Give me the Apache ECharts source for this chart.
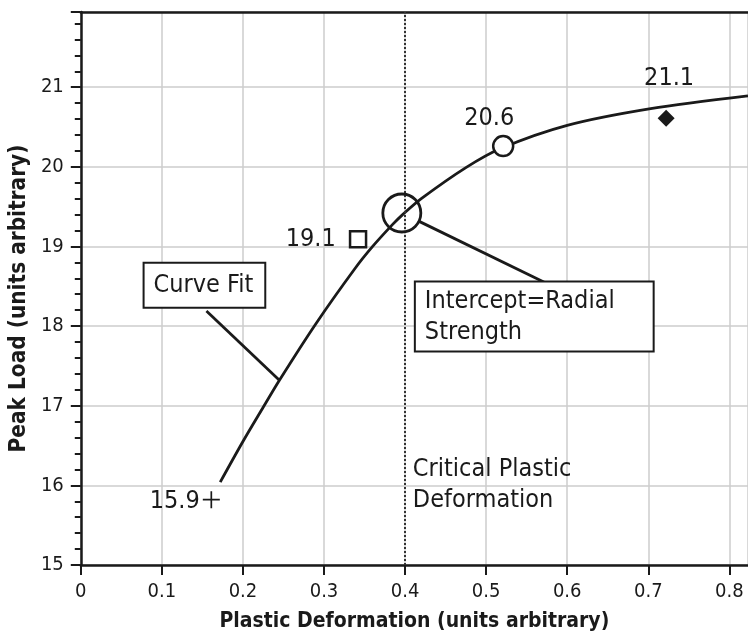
<!DOCTYPE html>
<html>
<head>
<meta charset="utf-8">
<script src="https://cdn.jsdelivr.net/npm/echarts@6/dist/echarts.min.js"></script>
<style>
  html, body { margin: 0; padding: 0; background: #fff; }
  #chart { width: 748px; height: 637px; }
</style>
</head>
<body>
<div id="chart"></div>
<script>
// curve fit
const curveX = [0.172, 0.200, 0.225, 0.245, 0.290, 0.338, 0.360, 0.385, 0.397, 0.420, 0.475, 0.518, 0.600, 0.703, 0.823];
const curveY = [16.04, 16.55, 16.98, 17.32, 18.03, 18.72, 19.00, 19.28, 19.40, 19.60, 19.99, 20.23, 20.52, 20.73, 20.89];

// measured points: cross, square, circle, diamond
const pointX = [0.161, 0.342, 0.521, 0.722];
const pointY = [15.82, 19.09, 20.26, 20.61];
const pointLabels = ["15.9", "19.1", "20.6", "21.1"];

// intercept and critical deformation
const interceptPoint = [0.396, 19.42];
const criticalX = 0.396;

// annotation anchors (data coords) and leader lines
const curveFitBox = [0.0787, 18.784];
const interceptBox = [0.4133, 18.546];
const criticalText = [0.4096, 16.39];
const curveFitLeader = [[0.155, 18.19], [0.245, 17.32]];
const interceptLeader = [[0.573, 18.545], [0.4174, 19.315]];

const yTicks = [15, 16, 17, 18, 19, 20, 21];

const FONT = "'DejaVu Sans Condensed', 'DejaVu Sans', sans-serif";
const INK = "#1a1a1a";

var chart = echarts.init(document.getElementById("chart"), null, { renderer: "canvas" });

function pointSeries(i, symbol, size, filled, labelOpt) {
  return {
    type: "scatter",
    data: [[pointX[i], pointY[i]]],
    symbol: symbol,
    symbolSize: size,
    itemStyle: {
      color: filled ? INK : "#fff",
      borderColor: INK,
      borderWidth: filled ? 0 : 2.5,
      opacity: 1,
    },
    label: Object.assign({
      show: true,
      formatter: pointLabels[i],
      color: INK,
      fontFamily: FONT,
      fontSize: 25,
      textBorderWidth: 0,
    }, labelOpt),
    z: 5,
  };
}

function noteSeries(pos, text, labelOpt) {
  return {
    type: "scatter",
    data: [pos],
    symbolSize: 0,
    itemStyle: { opacity: 1, color: INK },
    label: Object.assign({
      show: true,
      formatter: text,
      position: [0, 0],
      align: "left",
      verticalAlign: "top",
      color: INK,
      fontFamily: FONT,
      fontSize: 25,
      textBorderWidth: 0,
      textShadowBlur: 0,
    }, labelOpt),
    z: 8,
  };
}

var option = {
  animation: false,
  backgroundColor: "#fff",
  grid: { left: 78, right: 0, top: 12, bottom: 70 },
  xAxis: [
    {
      type: "value",
      min: 0,
      max: 0.823,
      interval: 0.1,
      name: "Plastic Deformation (units arbitrary)",
      nameLocation: "middle",
      nameGap: 46,
      nameTextStyle: { fontFamily: FONT, fontWeight: "bold", fontSize: 21, color: INK },
      axisLine: { lineStyle: { color: INK, width: 2.5 } },
      axisTick: { show: true, length: 10, lineStyle: { color: INK, width: 2 } },
      axisLabel: {
        margin: 17,
        fontFamily: FONT,
        fontSize: 20,
        color: INK,
        formatter: function (v) { return v === 0 ? "0" : v.toFixed(1); },
      },
      splitLine: { show: true, lineStyle: { color: "#cccccc", width: 1.5 } },
    },
    {
      type: "value",
      position: "top",
      min: 0,
      max: 0.823,
      axisLine: { show: true, lineStyle: { color: INK, width: 2.5 } },
      axisTick: { show: false },
      axisLabel: { show: false },
      splitLine: { show: false },
    },
  ],
  yAxis: {
    type: "value",
    min: yTicks[0],
    max: 21.944,
    interval: 1,
    name: "Peak Load (units arbitrary)",
    nameLocation: "middle",
    nameGap: 45,
    nameTextStyle: {
      fontFamily: FONT, fontWeight: "bold", fontSize: 22.4, color: INK,
      padding: [0, 20, 0, 0],
    },
    axisLine: { show: true, lineStyle: { color: INK, width: 2.5 } },
    axisTick: { show: true, length: 10, lineStyle: { color: INK, width: 2 } },
    minorTick: { show: true, splitNumber: 5, length: 6, lineStyle: { color: INK, width: 2 } },
    axisLabel: {
      margin: 17,
      fontFamily: FONT,
      fontSize: 20,
      color: INK,
      formatter: function (v) { return yTicks.indexOf(v) >= 0 ? String(v) : ""; },
    },
    splitLine: { show: true, lineStyle: { color: "#cccccc", width: 1.5 } },
  },
  series: [
    {
      type: "line",
      data: curveX.map((x, i) => [x, curveY[i]]),
      smooth: 0.3,
      showSymbol: false,
      lineStyle: { color: INK, width: 2.8 },
      z: 4,
      markLine: {
        silent: true,
        symbol: "none",
        label: { show: false },
        lineStyle: { color: "#333", width: 2, type: "dotted" },
        data: [{ xAxis: criticalX }],
      },
    },
    {
      type: "line",
      data: curveFitLeader,
      showSymbol: false,
      lineStyle: { color: INK, width: 2.8 },
      z: 4,
    },
    {
      type: "line",
      data: interceptLeader,
      showSymbol: false,
      lineStyle: { color: INK, width: 2.8 },
      z: 4,
    },
    {
      type: "scatter",
      data: [interceptPoint],
      symbol: "circle",
      symbolSize: 38,
      itemStyle: { color: "rgba(0,0,0,0)", borderColor: INK, borderWidth: 2.8, opacity: 1 },
      z: 5,
    },
    pointSeries(0, "path://M9,0h2v9h9v2h-9v9h-2v-9h-9v-2h9z", 17, true,
      { position: "left", distance: 3, offset: [0, 2] }),
    pointSeries(1, "rect", 16, false, { position: "left", distance: 13 }),
    pointSeries(2, "circle", 20, false, { position: "top", distance: 4, offset: [-14, 0] }),
    pointSeries(3, "diamond", 17, true, { position: "top", distance: 19, offset: [3, 0] }),
    noteSeries(curveFitBox, "Curve Fit", {
      backgroundColor: "#fff",
      borderColor: INK,
      borderWidth: 2,
      lineHeight: 30,
      padding: [7, 11, 6, 9],
    }),
    noteSeries(interceptBox, "Intercept=Radial\nStrength", {
      backgroundColor: "#fff",
      borderColor: INK,
      borderWidth: 2,
      lineHeight: 31,
      padding: [3, 38, 3, 9],
    }),
    noteSeries(criticalText, "Critical Plastic\nDeformation", { lineHeight: 31 }),
  ],
};

chart.setOption(option);
</script>
</body>
</html>
